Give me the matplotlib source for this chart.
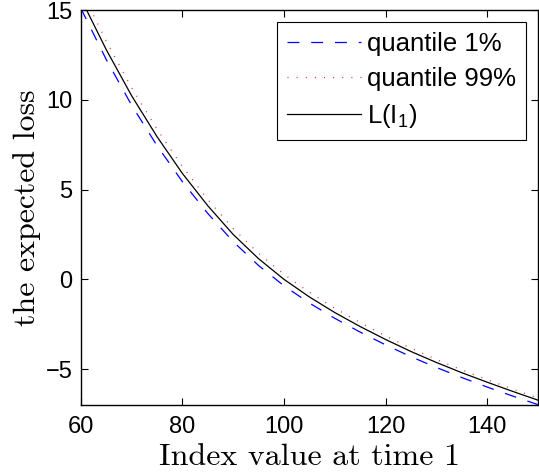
import numpy as np
import matplotlib
matplotlib.use('Agg')
import matplotlib.pyplot as plt

# index value at time 1 and the expected loss curves
index_vals = [60, 65, 70, 75, 80, 85, 90, 95, 100, 105, 110, 115, 120, 125, 130, 135, 140, 145, 150]
loss = [15.65, 12.8, 10.23, 7.95, 5.9, 4.1, 2.5, 1.15, 0.0, -0.98, -1.85, -2.63, -3.35, -4.02, -4.63, -5.2, -5.73, -6.24, -6.73]
q01 = [15.1, 12.25, 9.7, 7.45, 5.44, 3.67, 2.1, 0.77, -0.36, -1.32, -2.17, -2.94, -3.65, -4.31, -4.91, -5.47, -6.0, -6.5, -6.98]
q99 = [16.15, 13.28, 10.68, 8.37, 6.28, 4.45, 2.83, 1.45, 0.28, -0.72, -1.61, -2.41, -3.15, -3.84, -4.46, -5.05, -5.59, -6.11, -6.61]

plt.rcParams['font.family'] = ['Liberation Sans', 'DejaVu Sans']
plt.rcParams['mathtext.default'] = 'regular'

fig = plt.figure(figsize=(5.39, 4.74), dpi=100)
ax = fig.add_axes([0.150, 0.1456, 0.848, 0.833])

ax.plot(index_vals, q01, color='blue', linestyle=(0, (9.5, 9.5)), linewidth=0.9, label='quantile 1%')
ax.plot(index_vals, q99, color='#ff2020', linestyle=(0, (0.8, 6.5)), linewidth=0.9, label='quantile 99%')
ax.plot(index_vals, loss, color='black', linewidth=0.9, label='L(I$_1$)')

ax.set_xlim(60, 150)
ax.set_ylim(-7, 15)
ax.set_xticks([60, 80, 100, 120, 140])
ax.set_yticks([-5, 0, 5, 10, 15])
ax.set_yticklabels(['\u22125', '0', '5', '10', '15'])
ax.tick_params(direction='in', top=True, right=True, labelsize=17, length=5, width=0.8)
ax.tick_params(axis='x', pad=8)
ax.tick_params(axis='y', pad=6)
for s in ax.spines.values():
    s.set_linewidth(1.0)

ax.set_xlabel('Index value at time 1', family='cmr10', fontsize=23, labelpad=4)
ax.set_ylabel('the expected loss', family='cmr10', fontsize=23, labelpad=3)

leg = ax.legend(loc='upper right', fontsize=18.5, handlelength=2.85, fancybox=False,
                edgecolor='black', framealpha=1, borderpad=0.4, labelspacing=0.42,
                handletextpad=0.25, borderaxespad=0.45)
leg.get_frame().set_linewidth(0.8)

plt.savefig('out.png', dpi=100)
